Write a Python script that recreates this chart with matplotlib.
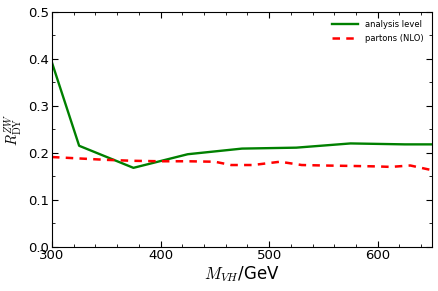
import matplotlib
matplotlib.use("Agg")
import matplotlib.pyplot as plt
from matplotlib.ticker import MultipleLocator

# analysis level (green)
m_ana = [300, 325, 375, 425, 475, 525, 575, 625, 650]
r_ana = [0.392, 0.215, 0.168, 0.197, 0.209, 0.211, 0.220, 0.218, 0.218]

# partons NLO (red dashed)
m_nlo = [300, 325, 350, 375, 400, 425, 450, 465, 485, 510, 530, 550, 577, 600, 612, 630, 650]
r_nlo = [0.191, 0.188, 0.185, 0.183, 0.182, 0.182, 0.181, 0.174, 0.174, 0.181, 0.174,
         0.173, 0.172, 0.171, 0.170, 0.173, 0.163]

plt.rcParams["mathtext.fontset"] = "cm"
plt.rcParams["font.family"] = "DejaVu Sans"

fig = plt.figure(figsize=(4.39, 2.91), dpi=100)
ax = fig.add_axes([52/439, 1 - 246.7/291, 380/439, 234.7/291])

ax.plot(m_ana, r_ana, color="green", lw=1.7, label="analysis level")
ax.plot(m_nlo, r_nlo, color="red", lw=1.8, ls=(0, (3, 2.5)), label="partons (NLO)")

ax.set_xlim(300, 650)
ax.set_ylim(0, 0.5)
ax.xaxis.set_major_locator(MultipleLocator(100))
ax.xaxis.set_minor_locator(MultipleLocator(20))
ax.yaxis.set_major_locator(MultipleLocator(0.1))
ax.yaxis.set_minor_locator(MultipleLocator(0.05))
ax.tick_params(which="both", direction="in", top=True, right=True, labelsize=9.5, pad=2)
ax.tick_params(which="major", length=4)
ax.tick_params(which="minor", length=2)

ax.set_xlabel(r"$M_{VH}$/GeV", fontsize=12, labelpad=1)
ax.set_ylabel(r"$R^{ZW}_{\rm DY}$", fontsize=10.5, labelpad=3)

ax.legend(loc="upper right", frameon=False, fontsize=6, handlelength=3.2, borderaxespad=0.6)

fig.savefig("out.png", dpi=100)
